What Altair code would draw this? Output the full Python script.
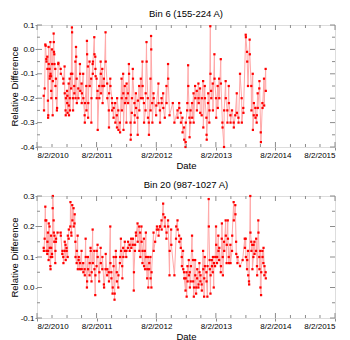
import altair as alt
import pandas as pd

# ---- data: (days after 2010-08-02, relative difference) ----
BIN6 = [(41,-0.19),(43,-0.25),(47,-0.16),(51,0.02),(53,0.015),(57,-0.04),(58,-0.05),(63,-0.03),(64,-0.08),(67,-0.21),(68,-0.28),(69,-0.27),(71,0.01),(72,-0.06),(77,-0.08),(78,-0.12),(79,-0.11),(82,0.03),(83,-0.1),(86,-0.11),(87,-0.17),(88,-0.2),(92,0.0),(93,-0.06),(96,-0.27),(97,-0.13),(102,0.065),(103,0.03),(104,-0.01),(106,-0.02),(107,-0.06),(112,-0.08),(113,-0.15),(116,-0.12),(117,-0.2),(122,-0.25),(123,-0.24),(130,-0.06),(131,-0.055),(145,-0.08),(146,-0.1),(161,-0.12),(162,-0.14),(169,-0.07),(170,-0.18),(175,-0.25),(176,-0.27),(177,-0.2),(184,-0.17),(185,-0.22),(186,-0.19),(187,-0.26),(194,-0.14),(195,-0.23),(196,-0.27),(200,-0.12),(201,-0.2),(202,-0.25),(208,-0.1),(209,-0.16),(214,0.09),(215,0.07),(216,-0.1),(220,-0.2),(221,-0.25),(228,-0.15),(229,-0.18),(235,-0.05),(236,-0.2),(239,0.01),(240,-0.03),(243,-0.12),(244,-0.22),(253,-0.16),(254,-0.2),(263,-0.06),(264,-0.1),(265,-0.17),(273,-0.14),(274,-0.22),(275,-0.18),(283,-0.1),(284,-0.2),(292,-0.27),(293,-0.3),(294,-0.22),(302,-0.15),(303,-0.25),(306,0.035),(307,-0.02),(312,-0.07),(313,-0.28),(314,-0.22),(322,-0.05),(323,-0.15),(332,-0.12),(333,-0.3),(334,-0.2),(341,-0.06),(342,-0.1),(343,-0.05),(351,0.05),(352,-0.02),(357,-0.03),(358,-0.08),(359,-0.11),(365,-0.12),(366,-0.2),(371,-0.17),(372,-0.33),(381,-0.15),(382,-0.2),(390,-0.05),(391,-0.1),(392,-0.18),(400,-0.08),(401,-0.15),(402,-0.22),(410,-0.12),(411,-0.15),(420,0.07),(421,-0.05),(430,-0.14),(431,-0.2),(440,-0.25),(441,-0.32),(442,-0.18),(449,-0.12),(450,-0.15),(459,-0.2),(460,-0.25),(461,-0.22),(469,-0.28),(470,-0.24),(479,-0.22),(480,-0.3),(489,-0.27),(490,-0.32),(491,-0.2),(498,-0.25),(499,-0.33),(508,-0.3),(509,-0.34),(518,-0.12),(519,-0.2),(520,-0.25),(528,-0.1),(529,-0.18),(530,-0.33),(538,-0.15),(539,-0.22),(547,-0.2),(548,-0.3),(549,-0.14),(557,-0.18),(558,-0.22),(563,-0.06),(564,-0.1),(573,-0.3),(574,-0.37),(575,-0.35),(581,-0.26),(582,-0.2),(587,-0.08),(588,-0.12),(597,-0.22),(598,-0.3),(599,-0.27),(606,-0.18),(607,-0.24),(616,-0.28),(617,-0.35),(618,-0.21),(626,-0.15),(627,-0.25),(636,-0.12),(637,-0.2),(646,-0.05),(647,-0.15),(648,-0.2),(655,-0.22),(656,-0.3),(665,-0.25),(666,-0.18),(671,0.03),(672,-0.05),(679,-0.2),(680,-0.28),(685,-0.3),(686,-0.35),(695,-0.12),(696,-0.25),(699,0.055),(700,0.0),(706,-0.22),(707,-0.3),(714,-0.18),(715,-0.2),(730,-0.27),(731,-0.23),(744,-0.14),(745,-0.22),(753,-0.25),(754,-0.3),(763,-0.2),(764,-0.22),(773,-0.18),(774,-0.24),(783,-0.28),(793,-0.15),(794,-0.22),(803,-0.06),(804,-0.12),(812,-0.27),(832,-0.22),(842,-0.3),(861,-0.25),(862,-0.28),(871,-0.22),(872,-0.24),(881,-0.26),(882,-0.3),(891,-0.28),(892,-0.34),(901,-0.32),(902,-0.37),(910,-0.4),(911,-0.38),(912,-0.3),(920,-0.25),(921,-0.22),(926,-0.065),(927,-0.15),(934,-0.28),(935,-0.36),(940,-0.3),(941,-0.25),(950,-0.22),(951,-0.28),(959,-0.18),(960,-0.3),(969,-0.15),(970,-0.2),(979,-0.17),(980,-0.25),(989,-0.14),(990,-0.2),(991,-0.22),(999,-0.16),(1000,-0.26),(1009,-0.27),(1010,-0.2),(1018,-0.13),(1019,-0.32),(1028,-0.15),(1029,-0.2),(1038,-0.28),(1039,-0.35),(1040,-0.37),(1048,-0.22),(1049,-0.18),(1056,-0.3),(1057,-0.25),(1062,0.095),(1063,-0.1),(1067,-0.17),(1068,-0.2),(1077,-0.14),(1078,-0.25),(1087,-0.02),(1088,-0.12),(1097,-0.2),(1098,-0.28),(1107,-0.15),(1108,-0.24),(1116,-0.12),(1117,-0.2),(1126,-0.04),(1127,-0.14),(1136,-0.3),(1137,-0.32),(1146,-0.4),(1147,-0.25),(1156,-0.13),(1157,-0.2),(1166,-0.25),(1167,-0.3),(1175,-0.15),(1176,-0.22),(1185,-0.27),(1186,-0.3),(1195,-0.25),(1205,-0.3),(1206,-0.32),(1215,-0.27),(1224,-0.18),(1225,-0.26),(1234,-0.28),(1235,-0.3),(1244,-0.1),(1254,-0.2),(1255,-0.3),(1264,-0.24),(1265,-0.26),(1279,0.06),(1280,0.05),(1287,-0.01),(1288,-0.05),(1293,-0.15),(1303,0.04),(1304,-0.02),(1313,-0.15),(1314,-0.25),(1322,-0.1),(1323,-0.33),(1328,-0.27),(1329,-0.22),(1338,-0.24),(1339,-0.28),(1346,-0.3),(1347,-0.27),(1352,-0.18),(1353,-0.24),(1362,-0.16),(1363,-0.13),(1371,-0.34),(1372,-0.38),(1381,-0.22),(1382,-0.24),(1391,-0.12),(1392,-0.23),(1401,-0.08),(1402,-0.17)]

BIN20 = [(41,0.13),(42,0.12),(47,0.16),(51,0.265),(52,0.22),(57,0.22),(58,0.12),(63,0.11),(64,0.15),(67,0.18),(68,0.12),(71,0.09),(72,0.21),(77,0.2),(78,0.13),(82,0.07),(83,0.06),(84,0.1),(86,0.17),(87,0.13),(92,0.11),(93,0.1),(96,0.26),(97,0.3),(102,0.22),(103,0.18),(106,0.15),(107,0.17),(112,0.08),(113,0.12),(116,0.15),(117,0.16),(126,0.18),(145,0.18),(146,0.17),(155,0.11),(156,0.12),(161,0.1),(162,0.08),(169,0.12),(170,0.15),(175,0.14),(176,0.09),(181,0.13),(182,0.12),(188,0.1),(189,0.17),(194,0.16),(195,0.19),(204,0.2),(205,0.28),(210,0.18),(211,0.17),(216,0.27),(217,0.22),(224,0.26),(225,0.2),(230,0.21),(231,0.24),(235,0.15),(236,0.1),(243,0.08),(244,0.12),(249,0.17),(250,0.06),(255,0.09),(256,0.1),(263,0.06),(264,0.08),(273,0.12),(274,0.06),(283,0.08),(284,0.05),(292,0.06),(293,0.04),(298,0.16),(299,0.1),(306,0.0),(307,0.02),(312,0.1),(313,0.06),(322,0.04),(323,0.08),(328,0.13),(329,0.12),(334,0.02),(335,0.05),(341,0.19),(342,0.08),(351,0.12),(352,0.06),(357,-0.025),(358,0.04),(365,0.07),(366,0.12),(371,0.14),(372,0.1),(381,0.02),(382,0.05),(390,0.13),(391,0.08),(400,0.06),(401,0.1),(410,0.01),(411,0.0),(420,0.06),(421,0.11),(430,0.04),(431,0.06),(440,0.05),(441,0.02),(449,0.2),(450,0.08),(455,0.05),(456,0.03),(463,-0.02),(464,0.0),(469,0.07),(470,0.1),(475,-0.04),(476,-0.02),(483,0.12),(484,0.1),(489,0.05),(490,0.02),(498,0.0),(499,0.04),(508,0.08),(509,0.1),(514,0.16),(515,0.12),(522,0.07),(523,0.03),(528,0.13),(529,0.1),(538,0.15),(539,0.12),(547,0.1),(548,0.12),(557,0.13),(558,0.15),(567,0.14),(568,0.12),(577,0.16),(578,0.13),(587,0.14),(588,0.16),(593,-0.01),(594,0.05),(600,0.12),(601,0.14),(606,0.18),(607,0.17),(616,0.21),(617,0.15),(626,0.2),(627,0.12),(632,0.18),(633,0.1),(640,0.2),(641,0.15),(646,0.08),(647,0.12),(655,0.16),(656,0.07),(661,0.12),(662,0.06),(667,0.18),(668,0.1),(675,0.03),(676,0.06),(681,0.1),(682,0.0),(687,0.06),(688,0.08),(695,0.1),(696,0.03),(701,0.0),(702,0.05),(714,0.18),(715,0.12),(724,0.15),(734,0.19),(735,0.2),(744,0.19),(745,0.17),(753,0.2),(754,0.2),(763,0.22),(764,0.19),(773,0.275),(774,0.24),(783,0.2),(784,0.23),(793,0.16),(794,0.18),(803,0.22),(804,0.2),(812,0.04),(813,0.12),(822,0.19),(823,0.14),(842,0.04),(852,0.16),(853,0.2),(861,0.22),(862,0.19),(871,0.17),(872,0.15),(881,0.13),(882,0.16),(887,0.1),(888,0.07),(895,0.12),(896,0.06),(901,0.05),(902,0.03),(910,-0.01),(911,0.03),(916,0.05),(917,-0.03),(922,0.07),(923,0.02),(930,0.09),(931,0.04),(936,0.05),(937,0.0),(942,0.02),(943,0.07),(950,0.17),(951,0.12),(956,0.09),(957,0.02),(961,-0.03),(962,0.0),(969,0.09),(970,0.04),(975,-0.02),(976,0.0),(981,0.03),(982,0.06),(989,0.0),(990,0.01),(995,0.08),(996,0.05),(1001,0.02),(1002,0.04),(1009,0.01),(1010,-0.01),(1018,0.12),(1019,0.06),(1024,-0.03),(1025,0.03),(1028,0.1),(1029,0.07),(1038,0.05),(1039,0.02),(1044,-0.03),(1045,0.07),(1052,0.29),(1053,0.2),(1058,0.09),(1059,0.06),(1063,-0.02),(1064,0.04),(1071,0.09),(1072,0.07),(1077,0.05),(1078,0.1),(1083,0.0),(1084,0.08),(1091,0.07),(1092,0.1),(1097,0.2),(1098,0.14),(1103,0.08),(1104,0.1),(1111,0.17),(1112,0.12),(1116,0.09),(1117,0.13),(1126,0.05),(1127,0.07),(1132,0.16),(1133,0.21),(1138,0.1),(1139,0.04),(1146,0.15),(1147,0.12),(1156,0.22),(1157,0.17),(1162,0.08),(1163,0.14),(1169,0.22),(1170,0.16),(1175,0.1),(1176,0.08),(1185,0.14),(1186,0.08),(1195,0.12),(1196,0.17),(1205,0.28),(1206,0.22),(1215,0.27),(1216,0.24),(1220,0.15),(1221,0.11),(1228,0.08),(1229,0.1),(1244,0.07),(1260,0.09),(1273,0.16),(1274,0.13),(1279,0.16),(1280,0.1),(1287,0.06),(1288,0.09),(1293,0.12),(1294,0.04),(1299,0.02),(1300,0.01),(1307,0.3),(1308,0.18),(1313,0.15),(1314,0.12),(1319,0.14),(1320,0.06),(1326,0.1),(1327,0.14),(1332,0.15),(1333,0.11),(1342,0.12),(1343,0.16),(1348,0.07),(1349,0.04),(1356,0.22),(1357,0.18),(1362,0.1),(1363,0.06),(1368,0.12),(1369,0.0),(1373,-0.025),(1374,0.05),(1381,0.12),(1382,0.1),(1387,0.08),(1388,0.13),(1393,0.04),(1394,0.07),(1401,0.05),(1402,0.03)]

START = "2010-08-02"
YEAR_TICKS = ["2010-08-02", "2011-08-02", "2012-08-02", "2013-08-02", "2014-08-02", "2015-08-02"]
QUARTER_TICKS = ["2010-11-02", "2011-02-02", "2011-05-02", "2011-11-02", "2012-02-02", "2012-05-02",
                 "2012-11-02", "2013-02-02", "2013-05-02", "2013-11-02", "2014-02-02", "2014-05-02",
                 "2014-11-02", "2015-02-02", "2015-05-02"]
BIN6_YTICKS = [0.1, 0.0, -0.1, -0.2, -0.3, -0.4]
BIN6_YMINOR = [0.05, -0.05, -0.15, -0.25, -0.35]
BIN20_YTICKS = [0.3, 0.2, 0.1, 0.0, -0.1]
BIN20_YMINOR = [0.25, 0.15, 0.05, -0.05]

W, H = 298, 122
FONT = "Liberation Sans"
FRAME = "#8c8c8c"


def to_df(pairs):
    days = [p[0] for p in pairs]
    vals = [p[1] for p in pairs]
    dates = (pd.Timestamp(START) + pd.to_timedelta(days, unit="D")).strftime("%Y-%m-%d")
    return pd.DataFrame({"date": list(dates), "val": vals})


def dt(s):
    y, m, d = (int(v) for v in s.split("-"))
    return alt.DateTime(year=y, month=m, date=d, utc=True)


xscale = alt.Scale(type="utc", domain=[dt(YEAR_TICKS[0]), dt(YEAR_TICKS[-1])])
MINUS = "\u2212"


def panel(pairs, title, ydom, yticks, yminor):
    df = to_df(pairs)
    yscale = alt.Scale(domain=ydom, nice=False, zero=False)
    xaxis = alt.Axis(values=[dt(s) for s in YEAR_TICKS], title="Date",
                     labelExpr="(utcmonth(datum.value)+1) + '/' + utcdate(datum.value) + '/' + utcyear(datum.value)",
                     grid=False, domain=False, tickSize=3, tickColor=FRAME, labelPadding=1,
                     labelFontSize=8, titleFontSize=9.5, titlePadding=1, labelFont=FONT, titleFont=FONT,
                     labelColor="black", titleColor="black", titleFontWeight="normal", labelOverlap=False)
    yaxis = alt.Axis(values=yticks, title="Relative Difference",
                     labelExpr="replace(format(datum.value, '.1f'), '" + MINUS + "', '-')",
                     grid=False, domain=False, tickSize=2, tickColor=FRAME, labelPadding=1,
                     labelFontSize=8, titleFontSize=9.5, titlePadding=1, labelFont=FONT, titleFont=FONT,
                     labelColor="black", titleColor="black", titleFontWeight="normal")
    base = alt.Chart(df).encode(
        x=alt.X("date:T", scale=xscale, axis=xaxis),
        y=alt.Y("val:Q", scale=yscale, axis=yaxis),
        order=alt.Order("date:T"),
    )
    line = base.mark_line(color="#ffa8a8", strokeWidth=1, opacity=1)
    pts = base.mark_square(color="#ff0000", size=5, opacity=1)

    xt_major = pd.DataFrame({"xt": YEAR_TICKS})
    xt_minor = pd.DataFrame({"xt": QUARTER_TICKS})
    yt_major = pd.DataFrame({"yt": yticks})
    yt_minor = pd.DataFrame({"yt": yminor})
    layers = [line, pts]
    for tdf, ln in ((xt_major, 5), (xt_minor, 3)):
        xenc = alt.X("xt:T", scale=xscale, axis=xaxis)
        layers.append(alt.Chart(tdf).mark_rule(color=FRAME, strokeWidth=1).encode(
            x=xenc, y=alt.value(0), y2=alt.value(ln)))
        layers.append(alt.Chart(tdf).mark_rule(color=FRAME, strokeWidth=1).encode(
            x=xenc, y=alt.value(H), y2=alt.value(H - ln)))
    for tdf, ln in ((yt_major, 5), (yt_minor, 3)):
        yenc = alt.Y("yt:Q", scale=yscale, axis=yaxis)
        layers.append(alt.Chart(tdf).mark_rule(color=FRAME, strokeWidth=1).encode(
            y=yenc, x=alt.value(0), x2=alt.value(ln)))
        layers.append(alt.Chart(tdf).mark_rule(color=FRAME, strokeWidth=1).encode(
            y=yenc, x=alt.value(W), x2=alt.value(W - ln)))

    return alt.layer(*layers).properties(
        width=W, height=H,
        title=alt.TitleParams(title, fontSize=9.5, fontWeight="normal", font=FONT, color="black", offset=3),
    )


top = panel(BIN6, "Bin 6 (155-224 A)", [-0.4, 0.1], BIN6_YTICKS, BIN6_YMINOR)
bottom = panel(BIN20, "Bin 20 (987-1027 A)", [-0.1, 0.3], BIN20_YTICKS, BIN20_YMINOR)

chart = alt.vconcat(top, bottom, spacing=9).properties(
    padding={"left": 0, "top": 0, "right": 0, "bottom": 0}
).configure_view(stroke=FRAME, strokeWidth=1).configure(background="white")

chart.save("out.html", embed_options={"renderer": "svg", "actions": False})
